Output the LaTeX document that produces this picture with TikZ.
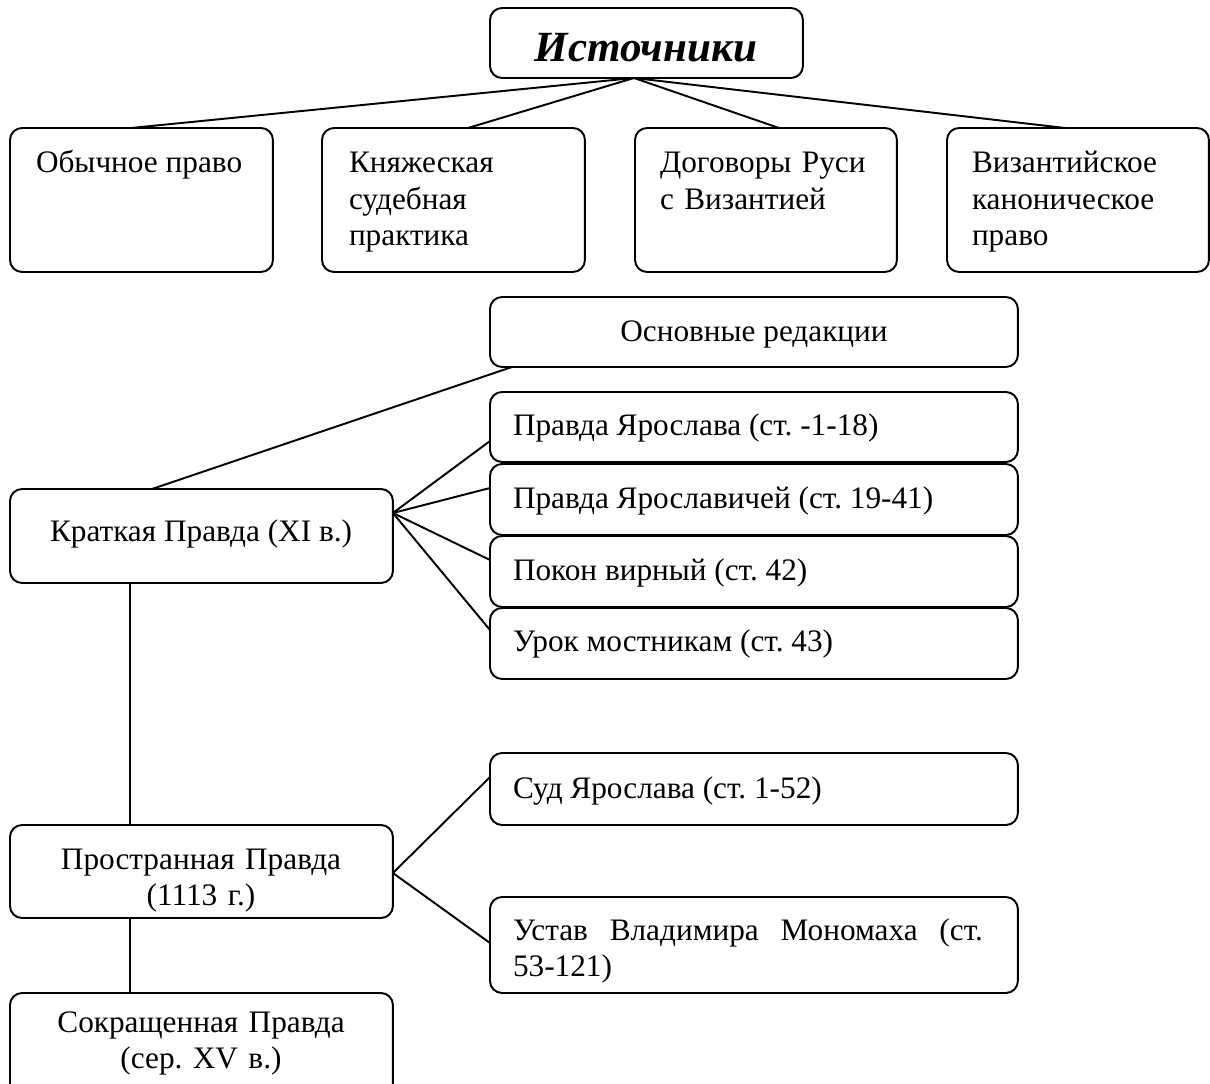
\documentclass[tikz,border=0pt]{standalone}
\usepackage{fontspec}
\setmainfont{Liberation Serif}
\usetikzlibrary{calc}
\frenchspacing
\newcommand{\bodyfont}{\fontsize{17.8pt}{20.5pt}\selectfont}
\newcommand{\titlefont}{\fontsize{24.5pt}{28pt}\selectfont\bfseries\itshape}
\begin{document}
\begin{tikzpicture}[x=0.02cm, y=-0.02cm,
  box/.style={draw, line width=1.1pt, rounded corners=0.24cm, inner sep=0pt, outer sep=0pt, anchor=north west},
  txt/.style={inner sep=0pt, outer sep=0pt, font=\bodyfont},
  mtxt/.style={txt, text width=#1, align=left},
  ctxt/.style={txt, text width=#1, align=center},
  ln/.style={line width=1.1pt}]
\useasboundingbox (0,0) rectangle (1210,1084);
% boxes
\node[box, minimum width=6.26cm, minimum height=1.4cm] (title) at (490,8) {};
\node[box, minimum width=5.26cm, minimum height=2.88cm] (b1) at (10,128) {};
\node[box, minimum width=5.26cm, minimum height=2.88cm] (b2) at (322,128) {};
\node[box, minimum width=5.24cm, minimum height=2.88cm] (b3) at (635,128) {};
\node[box, minimum width=5.24cm, minimum height=2.88cm] (b4) at (947,128) {};
\node[box, minimum width=10.56cm, minimum height=1.4cm] (osn) at (490,297) {};
\node[box, minimum width=10.56cm, minimum height=1.4cm] (r1) at (490,392) {};
\node[box, minimum width=10.56cm, minimum height=1.42cm] (r2) at (490,464) {};
\node[box, minimum width=10.56cm, minimum height=1.42cm] (r3) at (490,536) {};
\node[box, minimum width=10.56cm, minimum height=1.42cm] (r4) at (490,608) {};
\node[box, minimum width=7.66cm, minimum height=1.88cm] (kr) at (10,489) {};
\node[box, minimum width=10.56cm, minimum height=1.44cm] (sud) at (490,753) {};
\node[box, minimum width=10.56cm, minimum height=1.92cm] (ust) at (490,897) {};
\node[box, minimum width=7.66cm, minimum height=1.86cm] (pr) at (10,825) {};
\node[box, minimum width=7.66cm, minimum height=2.2cm] (sok) at (10,993) {};
% texts
\node[txt, font=\titlefont, anchor=base] (tTitle) at (646,62) {Источники};
\node[txt, anchor=base west] (t1) at (36,173) {Обычное право};
\node[mtxt=5cm, anchor=base west] (t2) at (349,173) {Княжеская\\судебная\\практика};
\node[mtxt=5cm, anchor=base west] (t3) at (660,173) {Договоры Руси\\с Византией};
\node[mtxt=5cm, anchor=base west] (t4) at (972,173) {Византийское\\каноническое\\право};
\node[txt, anchor=base] (tosn) at (754,342) {Основные редакции};
\node[txt, anchor=base west] (tr1) at (513,436) {Правда Ярослава (ст. -1-18)};
\node[txt, anchor=base west] (tr2) at (513,508) {Правда Ярославичей (ст. 19-41)};
\node[txt, anchor=base west] (tr3) at (513,580) {Покон вирный (ст. 42)};
\node[txt, anchor=base west] (tr4) at (513,651) {Урок мостникам (ст. 43)};
\node[txt, anchor=base] (tkr) at (201,541) {Краткая Правда (XI в.)};
\node[txt, anchor=base west] (tsud) at (513,798) {Суд Ярослава (ст. 1-52)};
\node[mtxt=9.4cm, anchor=base west] (tust) at (513,940) {Устав\hfill Владимира\hfill Мономаха\hfill (ст.\\53-121)};
\node[ctxt=7cm, anchor=base] (tpr) at (201,869) {Пространная Правда\\(1113 г.)};
\node[ctxt=7cm, anchor=base] (tsok) at (201,1032) {Сокращенная Правда\\(сер. XV в.)};
% connectors
\draw[ln] ($(title.south west)+(144,0)$) -- ($(b1.north west)+(121,0)$);
\draw[ln] ($(title.south west)+(144,0)$) -- ($(b2.north west)+(146,0)$);
\draw[ln] ($(title.south west)+(144,0)$) -- ($(b3.north west)+(144,0)$);
\draw[ln] ($(title.south west)+(144,0)$) -- ($(b4.north west)+(118,0)$);
\draw[ln] ($(osn.south west)+(22,0)$) -- ($(kr.north west)+(142,0)$);
\draw[ln] ($(kr.north east)+(0,24)$) -- ($(r1.north west)+(0,49)$);
\draw[ln] ($(kr.north east)+(0,24)$) -- ($(r2.north west)+(0,24)$);
\draw[ln] ($(kr.north east)+(0,24)$) -- ($(r3.north west)+(0,24)$);
\draw[ln] ($(kr.north east)+(0,24)$) -- ($(r4.north west)+(0,22)$);
\draw[ln] ($(kr.south west)+(120,0)$) -- ($(pr.north west)+(120,0)$);
\draw[ln] ($(pr.north east)+(0,48)$) -- ($(sud.north west)+(0,24)$);
\draw[ln] ($(pr.north east)+(0,48)$) -- ($(ust.north west)+(0,46)$);
\draw[ln] ($(pr.south west)+(120,0)$) -- ($(sok.north west)+(120,0)$);
\end{tikzpicture}
\end{document}
